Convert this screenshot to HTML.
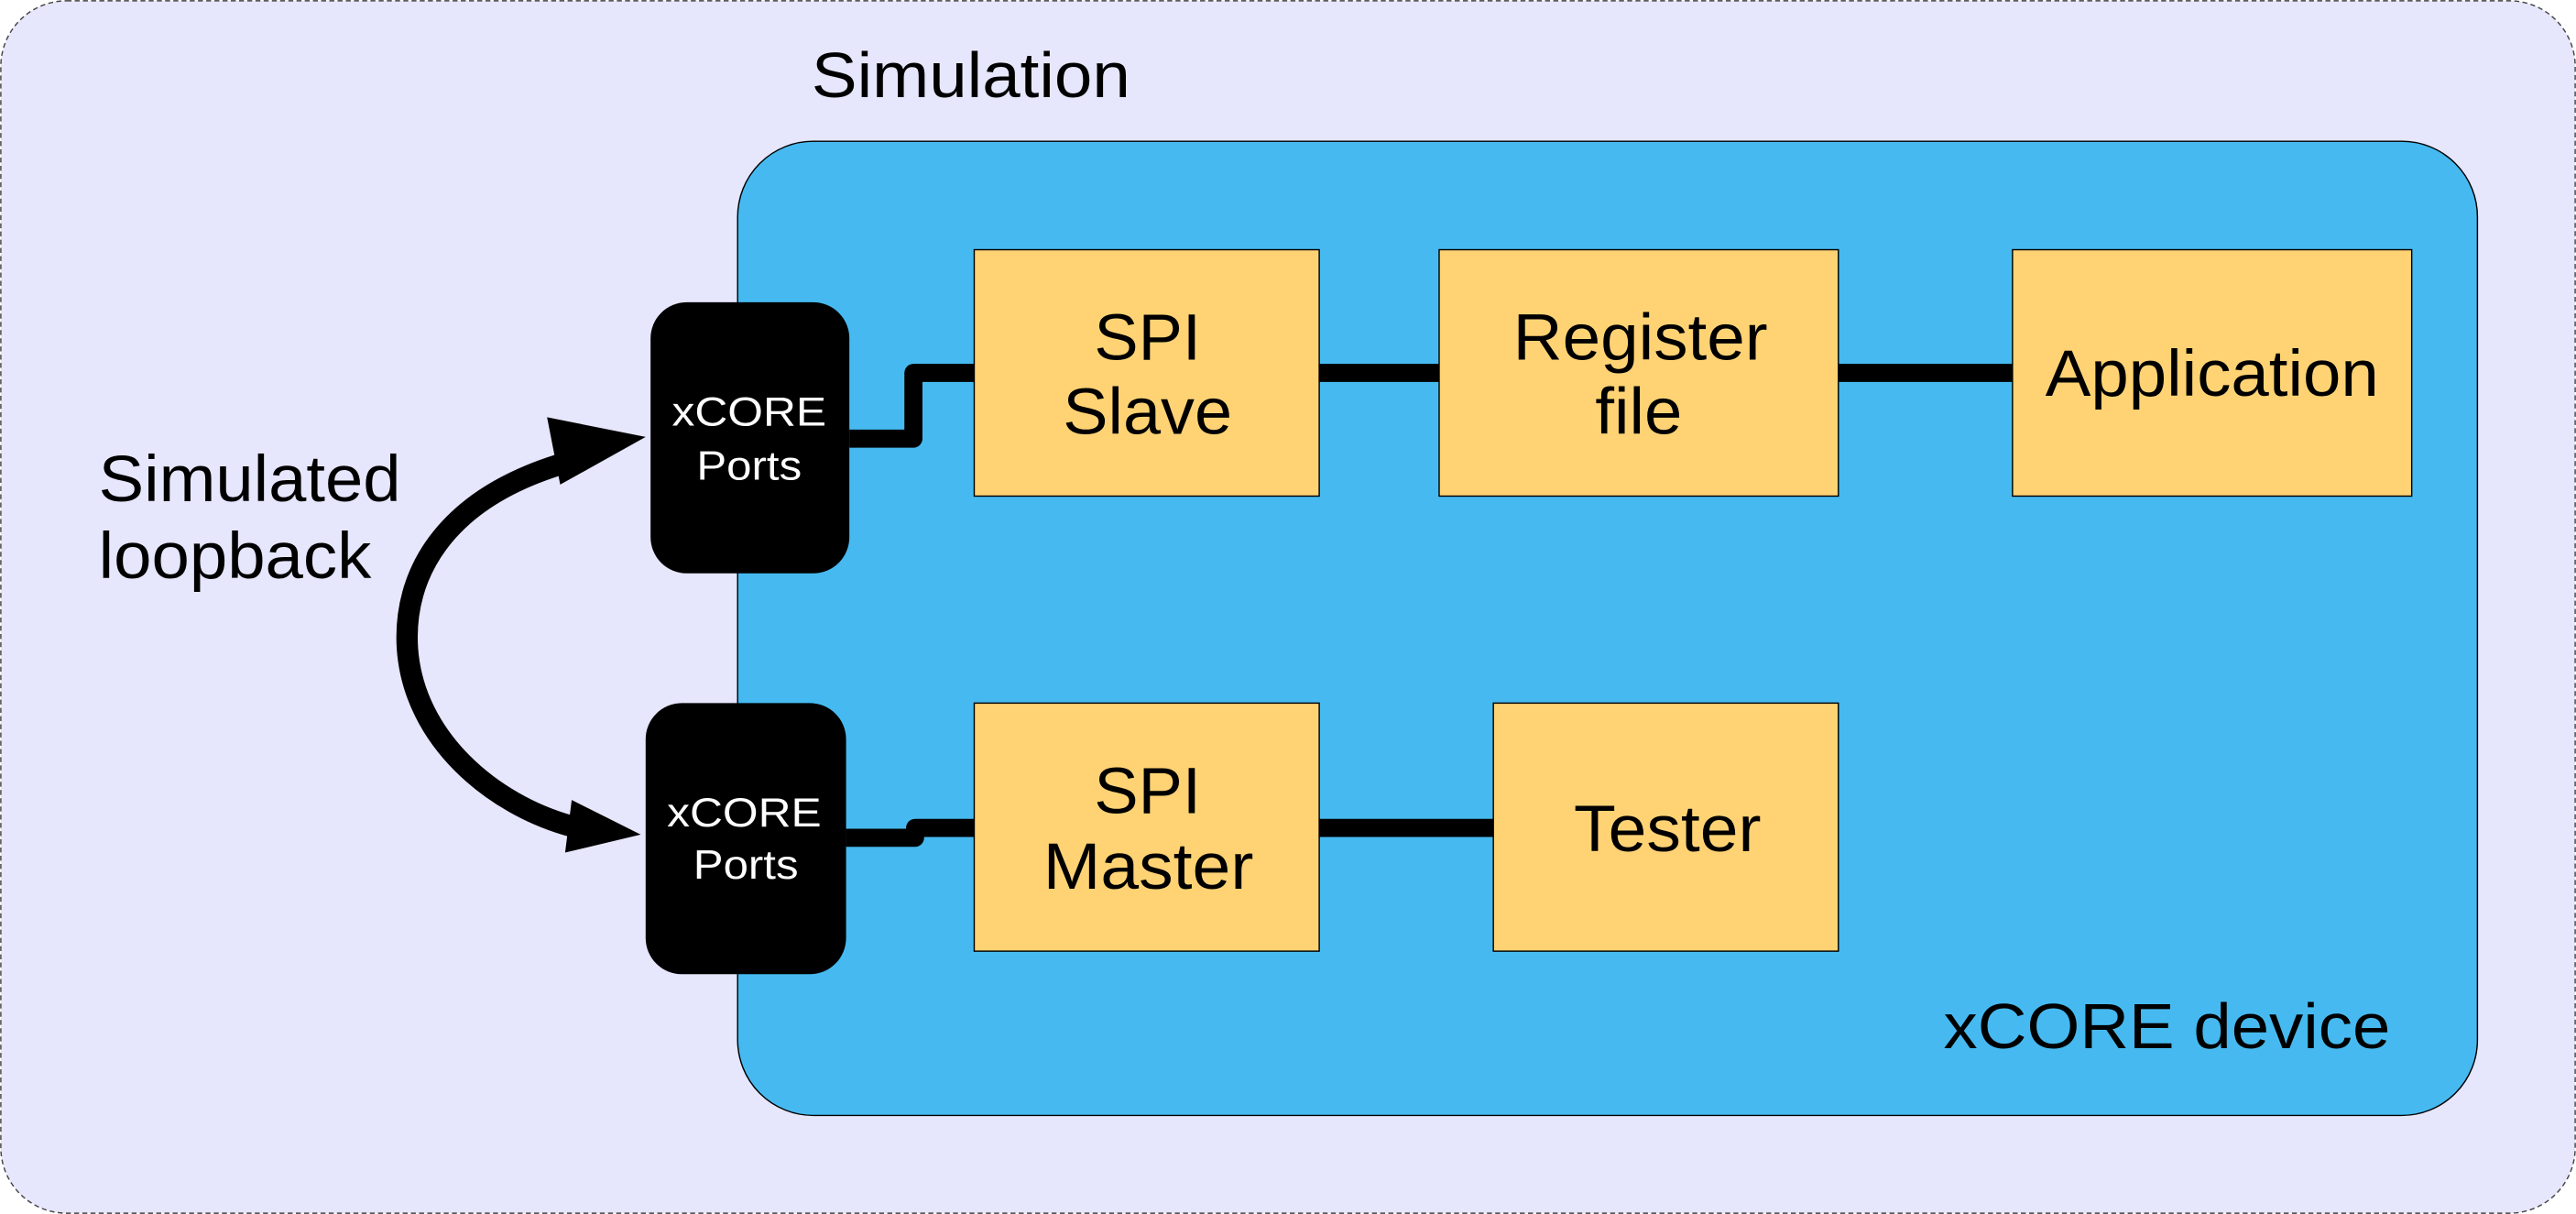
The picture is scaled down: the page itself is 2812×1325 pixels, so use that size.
<!DOCTYPE html>
<html><head><style>html,body{margin:0;padding:0;background:#fff}svg{display:block}</style></head>
<body>
<svg width="2812" height="1325" viewBox="0 0 1568 739" preserveAspectRatio="none" xmlns="http://www.w3.org/2000/svg" style="font-family:'Liberation Sans',sans-serif">
<rect x="0.5" y="0.5" width="1567" height="738" rx="40" fill="#e6e6fc" stroke="#444" stroke-width="0.8" stroke-dasharray="3,2"/>
<text x="494" y="59" font-size="39" textLength="194" lengthAdjust="spacingAndGlyphs">Simulation</text>
<rect x="449" y="86" width="1059" height="593" rx="46" fill="#46baf0" stroke="#000" stroke-width="0.8"/>
<text x="1183" y="638" font-size="39" textLength="272" lengthAdjust="spacingAndGlyphs">xCORE device</text>
<g stroke="#000" stroke-width="11" fill="none" stroke-linejoin="round">
<path d="M517 267 H556 V227 H593"/>
<path d="M803 227 H876"/>
<path d="M1119 227 H1225"/>
<path d="M515 510 H557 V504 H593"/>
<path d="M803 504 H909"/>
<path d="M340 283 C270 305 245 350 248 395 C252 450 300 490 348 503" stroke-width="13"/>
</g>
<polygon points="393,266 333,254 341,295" fill="#000"/>
<polygon points="390,508 348,487 344,519" fill="#000"/>
<text x="60" y="305" font-size="40" textLength="184" lengthAdjust="spacingAndGlyphs">Simulated</text>
<text x="60" y="352" font-size="40" textLength="166" lengthAdjust="spacingAndGlyphs">loopback</text>
<rect x="396" y="184" width="121" height="165" rx="22" fill="#000"/>
<rect x="393" y="428" width="122" height="165" rx="22" fill="#000"/>
<g fill="#fff" font-size="25">
<text x="409" y="259" textLength="94" lengthAdjust="spacingAndGlyphs">xCORE</text><text x="424" y="292" textLength="64" lengthAdjust="spacingAndGlyphs">Ports</text>
<text x="406" y="503" textLength="94" lengthAdjust="spacingAndGlyphs">xCORE</text><text x="422" y="535" textLength="64" lengthAdjust="spacingAndGlyphs">Ports</text>
</g>
<g fill="#ffd374" stroke="#000" stroke-width="0.8">
<rect x="593" y="152" width="210" height="150"/>
<rect x="876" y="152" width="243" height="150"/>
<rect x="1225" y="152" width="243" height="150"/>
<rect x="593" y="428" width="210" height="151"/>
<rect x="909" y="428" width="210" height="151"/>
</g>
<g font-size="40" fill="#000">
<text x="666" y="219" textLength="65" lengthAdjust="spacingAndGlyphs">SPI</text><text x="647" y="264" textLength="103" lengthAdjust="spacingAndGlyphs">Slave</text>
<text x="921" y="219" textLength="155" lengthAdjust="spacingAndGlyphs">Register</text><text x="971" y="264" textLength="53" lengthAdjust="spacingAndGlyphs">file</text>
<text x="1245" y="241" textLength="203" lengthAdjust="spacingAndGlyphs">Application</text>
<text x="666" y="495" textLength="65" lengthAdjust="spacingAndGlyphs">SPI</text><text x="635" y="541" textLength="128" lengthAdjust="spacingAndGlyphs">Master</text>
<text x="958" y="518" textLength="114" lengthAdjust="spacingAndGlyphs">Tester</text>
</g>
</svg>
</body></html>
